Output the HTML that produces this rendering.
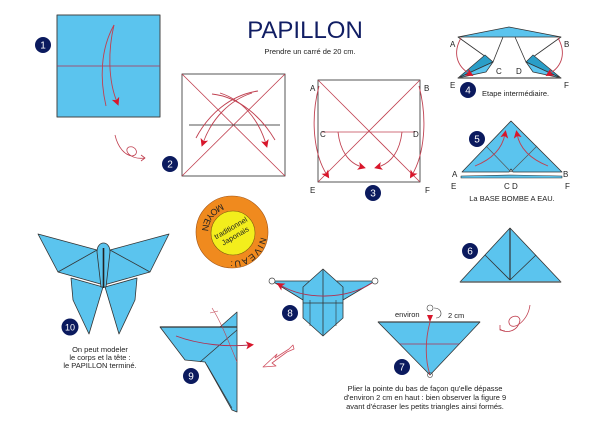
<!DOCTYPE html>
<html><head><meta charset="utf-8"><style>
html,body{margin:0;padding:0;background:#fff}
svg{display:block}
text{font-family:"Liberation Sans",sans-serif}
</style></head><body>
<svg width="609" height="430" viewBox="0 0 609 430" xmlns="http://www.w3.org/2000/svg">
<defs>
<marker id="ah" markerWidth="8" markerHeight="8" refX="4" refY="4" orient="auto" markerUnits="userSpaceOnUse"><path d="M0,0 L8,4 L0,8 L2,4 Z" fill="#d8162b"/></marker>
<path id="arcN" d="M260.6,237 A29 29 0 0 1 204.7,241.9"/>
<path id="arcM" d="M221.7,203.8 A30 30 0 0 0 203.8,242.3"/>
</defs>
<g stroke-linejoin="round">
<!-- title -->
<text x="305" y="38" font-size="24" fill="#101d63" text-anchor="middle">PAPILLON</text>
<text x="310" y="54" font-size="7.5" fill="#222" text-anchor="middle">Prendre un carré de 20 cm.</text>

<!-- Fig 1 -->
<rect x="57" y="15" width="103" height="102" fill="#5bc4ee" stroke="#444" stroke-width="1"/>
<line x1="57" y1="66" x2="160" y2="66" stroke="#b03050" stroke-width="0.8"/>
<path d="M114,25 C100,50 100,80 106,106" fill="none" stroke="#c04050" stroke-width="0.9"/>
<path d="M114,25 C108,50 108,80 117,102" fill="none" stroke="#c04050" stroke-width="0.9" marker-end="url(#ah)"/>
<circle cx="43" cy="45" r="8" fill="#0b1a5e"/><text x="43" y="48.5" font-size="10" fill="#fff" text-anchor="middle">1</text>

<!-- loop arrow -->
<path d="M115,135 C118,148 125,155 132,156 C140,155 136,145 129,147 C123,150 130,160 145,158" fill="none" stroke="#c04050" stroke-width="0.8"/>
<path d="M141,155 L145,158 L141,161" fill="none" stroke="#c04050" stroke-width="0.8"/>

<!-- Fig 2 -->
<rect x="182" y="74" width="103" height="102" fill="#fff" stroke="#555" stroke-width="1"/>
<line x1="182" y1="74" x2="285" y2="176" stroke="#c04050" stroke-width="0.8"/>
<line x1="285" y1="74" x2="182" y2="176" stroke="#c04050" stroke-width="0.8"/>
<line x1="189" y1="125" x2="280" y2="125" stroke="#555" stroke-width="0.9"/>
<path d="M258,91 C230,95 208,115 196,138" fill="none" stroke="#c04050" stroke-width="0.9"/>
<path d="M252,93 C230,100 212,118 203,143" fill="none" stroke="#c04050" stroke-width="0.9" marker-end="url(#ah)"/>
<path d="M212,94 C240,97 262,118 275,140" fill="none" stroke="#c04050" stroke-width="0.9"/>
<path d="M220,93 C242,100 258,118 266,144" fill="none" stroke="#c04050" stroke-width="0.9" marker-end="url(#ah)"/>
<circle cx="170" cy="164" r="8" fill="#0b1a5e"/><text x="170" y="167.5" font-size="10" fill="#fff" text-anchor="middle">2</text>

<!-- Fig 3 -->
<rect x="318" y="80" width="102" height="102" fill="#fff" stroke="#555" stroke-width="1"/>
<line x1="318" y1="80" x2="420" y2="182" stroke="#c04050" stroke-width="0.8"/>
<line x1="420" y1="80" x2="318" y2="182" stroke="#c04050" stroke-width="0.8"/>
<line x1="322" y1="132" x2="415" y2="132" stroke="#c04050" stroke-width="0.8"/>
<path d="M319,86 C310,120 314,155 327,175" fill="none" stroke="#c04050" stroke-width="0.9" marker-end="url(#ah)"/>
<path d="M419,86 C428,120 424,155 412,175" fill="none" stroke="#c04050" stroke-width="0.9" marker-end="url(#ah)"/>
<path d="M338,132 C340,150 348,163 362,167" fill="none" stroke="#c04050" stroke-width="0.9" marker-end="url(#ah)"/>
<path d="M402,132 C400,150 392,163 378,167" fill="none" stroke="#c04050" stroke-width="0.9" marker-end="url(#ah)"/>
<g font-size="8" fill="#222"><text x="310" y="91">A</text><text x="424" y="91">B</text><text x="320" y="137">C</text><text x="413" y="137">D</text><text x="310" y="193">E</text><text x="425" y="193">F</text></g>
<circle cx="373" cy="193" r="8" fill="#0b1a5e"/><text x="373" y="196.5" font-size="10" fill="#fff" text-anchor="middle">3</text>

<!-- Fig 4 -->
<polygon points="458,37 509,27 561,37" fill="#5bc4ee" stroke="#333" stroke-width="0.8"/>
<polyline points="458,37 493,62 503,37" fill="none" stroke="#333" stroke-width="0.8"/>
<polyline points="561,37 526,62 515,37" fill="none" stroke="#333" stroke-width="0.8"/>
<polygon points="458,78 493,62 485,55" fill="#2a9ec8" stroke="#333" stroke-width="0.7"/>
<polygon points="458,78 493,62 486,72" fill="#5bc4ee" stroke="#333" stroke-width="0.7"/>
<polygon points="561,78 526,62 533,55" fill="#2a9ec8" stroke="#333" stroke-width="0.7"/>
<polygon points="561,78 526,62 533,72" fill="#5bc4ee" stroke="#333" stroke-width="0.7"/>
<line x1="458" y1="78" x2="561" y2="78" stroke="#555" stroke-width="1.2"/>
<path d="M461,38 C453,52 456,66 470,74" fill="none" stroke="#c04050" stroke-width="0.9" marker-end="url(#ah)"/>
<path d="M558,38 C566,52 563,66 549,74" fill="none" stroke="#c04050" stroke-width="0.9" marker-end="url(#ah)"/>
<g font-size="8" fill="#222"><text x="450" y="47">A</text><text x="564" y="47">B</text><text x="496" y="74">C</text><text x="516" y="74">D</text><text x="450" y="88">E</text><text x="564" y="88">F</text></g>
<circle cx="468" cy="90" r="8" fill="#0b1a5e"/><text x="468" y="93.5" font-size="10" fill="#fff" text-anchor="middle">4</text>
<text x="482" y="96" font-size="7.5" fill="#222">Etape intermédiaire.</text>

<!-- Fig 5 -->
<polygon points="461,176 511,175 562,176 562,178 461,178" fill="#5bc4ee" stroke="#333" stroke-width="0.6"/>
<polygon points="462,172 511,121 562,172 513,172 511,169 509,172" fill="#5bc4ee" stroke="#333" stroke-width="0.8"/>
<line x1="486" y1="146" x2="511" y2="172" stroke="#555" stroke-width="0.7"/>
<line x1="537" y1="146" x2="511" y2="172" stroke="#555" stroke-width="0.7"/>
<path d="M475,166 C490,160 502,150 505,134" fill="none" stroke="#c04050" stroke-width="0.9" marker-end="url(#ah)"/>
<path d="M548,166 C533,160 520,150 517,134" fill="none" stroke="#c04050" stroke-width="0.9" marker-end="url(#ah)"/>
<g font-size="8" fill="#222"><text x="452" y="177">A</text><text x="563" y="177">B</text><text x="451" y="189">E</text><text x="504" y="189">C D</text><text x="565" y="189">F</text></g>
<circle cx="477" cy="139" r="8" fill="#0b1a5e"/><text x="477" y="142.5" font-size="10" fill="#fff" text-anchor="middle">5</text>
<text x="512" y="201" font-size="7.5" fill="#222" text-anchor="middle">La BASE BOMBE A EAU.</text>

<!-- Badge -->
<circle cx="232" cy="232" r="36" fill="#f08a1e" stroke="#a05010" stroke-width="0.6"/>
<circle cx="233" cy="233" r="22" fill="#f3ee1c" stroke="#806010" stroke-width="0.6"/>
<text transform="translate(233,232) rotate(-30)" font-size="7.5" fill="#222" text-anchor="middle"><tspan x="0" y="-2">traditionnel</tspan><tspan x="0" y="7">Japonais</tspan></text>
<text font-size="9" fill="#222" letter-spacing="0.5"><textPath href="#arcM">MOYEN</textPath></text>
<text font-size="9" fill="#222" letter-spacing="1"><textPath href="#arcN">NIVEAU:</textPath></text>

<!-- Fig 6 -->
<polygon points="460,282 510,228 561,282" fill="#5bc4ee" stroke="#333" stroke-width="0.8"/>
<line x1="510" y1="228" x2="510" y2="280" stroke="#333" stroke-width="1.2"/>
<line x1="485" y1="255" x2="510" y2="280" stroke="#333" stroke-width="0.8"/>
<line x1="536" y1="255" x2="510" y2="280" stroke="#333" stroke-width="0.8"/>
<line x1="460" y1="282" x2="561" y2="282" stroke="#666" stroke-width="1.4"/>
<circle cx="470" cy="251" r="8" fill="#0b1a5e"/><text x="470" y="254.5" font-size="10" fill="#fff" text-anchor="middle">6</text>

<!-- spiral arrow -->
<path d="M530,305 C528,320 515,330 510,325 C505,318 518,312 520,320 C518,332 505,334 500,329" fill="none" stroke="#c04050" stroke-width="0.8"/>
<path d="M500,325 L500,330 L505,331" fill="none" stroke="#c04050" stroke-width="0.8"/>

<!-- Fig 7 -->
<polygon points="378,322 480,322 430,375" fill="#5bc4ee" stroke="#333" stroke-width="0.8"/>
<line x1="378" y1="322" x2="480" y2="322" stroke="#444" stroke-width="1.3"/>
<line x1="400" y1="344" x2="459" y2="344" stroke="#b03050" stroke-width="0.8"/>
<path d="M430,375 C425,360 425,340 430,322" fill="none" stroke="#c04050" stroke-width="0.9"/>
<path d="M430,322 L427,315 L433,315 Z" fill="#d8162b"/>
<circle cx="430" cy="375" r="2.5" fill="none" stroke="#444" stroke-width="0.6"/>
<circle cx="430" cy="308" r="3" fill="none" stroke="#444" stroke-width="0.6"/>
<path d="M434,308 C443,308 443,318 436,318" fill="none" stroke="#444" stroke-width="0.6"/>
<text x="395" y="317" font-size="7.5" fill="#222">environ</text>
<text x="448" y="318" font-size="7.5" fill="#222">2 cm</text>
<circle cx="402" cy="367" r="8" fill="#0b1a5e"/><text x="402" y="370.5" font-size="10" fill="#fff" text-anchor="middle">7</text>
<text font-size="7.5" fill="#222" text-anchor="middle"><tspan x="425" y="391">Plier la pointe du bas de façon qu'elle dépasse</tspan><tspan x="425" y="400">d'environ 2 cm en haut : bien observer la figure 9</tspan><tspan x="425" y="409">avant d'écraser les petits triangles ainsi formés.</tspan></text>

<!-- Fig 8 -->
<polygon points="272,281 375,281 343,300 303,300" fill="#5bc4ee" stroke="#333" stroke-width="0.8"/>
<polygon points="323,269 343,287 343,318 323,336 303,318 303,287" fill="#5bc4ee" stroke="#333" stroke-width="0.8"/>
<line x1="323" y1="269" x2="323" y2="336" stroke="#333" stroke-width="0.8"/>
<line x1="303" y1="303" x2="343" y2="303" stroke="#333" stroke-width="0.8"/>
<line x1="310" y1="300" x2="310" y2="326" stroke="#333" stroke-width="0.6"/>
<line x1="336" y1="300" x2="336" y2="326" stroke="#333" stroke-width="0.6"/>
<path d="M372,283 C345,300 305,300 280,285" fill="none" stroke="#b03050" stroke-width="0.9" marker-end="url(#ah)"/>
<circle cx="272" cy="281" r="3" fill="#fff" stroke="#444" stroke-width="0.7"/>
<circle cx="375" cy="281" r="3" fill="#fff" stroke="#444" stroke-width="0.7"/>
<circle cx="290" cy="313" r="8" fill="#0b1a5e"/><text x="290" y="316.5" font-size="10" fill="#fff" text-anchor="middle">8</text>

<!-- hollow arrow -->
<path d="M293,345 L289,349 L275,358 L277,354 L263,367 L276,366 L272,363 L287,352 L294,349 Z" fill="#fff" stroke="#d05060" stroke-width="0.8"/>

<!-- Fig 9 -->
<polygon points="160,327 220,327 237,312 237,412 232,410 205,362 185,360" fill="#5bc4ee" stroke="#333" stroke-width="0.8"/>
<line x1="160" y1="327" x2="237" y2="327" stroke="#333" stroke-width="1.3"/>
<line x1="200" y1="362" x2="237" y2="330" stroke="#333" stroke-width="0.8"/>
<line x1="207" y1="365" x2="232" y2="408" stroke="#333" stroke-width="0.6"/>
<path d="M176,336 C200,345 228,347 250,345" fill="none" stroke="#b03050" stroke-width="0.9" marker-end="url(#ah)"/>
<path d="M212,308 C220,320 228,340 237,362" fill="none" stroke="#c04050" stroke-width="0.6"/>
<line x1="210" y1="313" x2="218" y2="311" stroke="#c04050" stroke-width="0.6"/>
<circle cx="191" cy="376" r="8" fill="#0b1a5e"/><text x="191" y="379.5" font-size="10" fill="#fff" text-anchor="middle">9</text>

<!-- Fig 10 butterfly -->
<polygon points="71,278 103,287 89,334 73,300" fill="#5bc4ee" stroke="#333" stroke-width="0.8"/>
<polygon points="137,278 105,287 119,334 135,300" fill="#5bc4ee" stroke="#333" stroke-width="0.8"/>
<polygon points="38,234 97,250 104,285 58,272" fill="#5bc4ee" stroke="#333" stroke-width="0.8"/>
<polygon points="169,234 110,250 104,285 150,272" fill="#5bc4ee" stroke="#333" stroke-width="0.8"/>
<line x1="58" y1="272" x2="97" y2="250" stroke="#333" stroke-width="0.8"/>
<line x1="150" y1="272" x2="110" y2="250" stroke="#333" stroke-width="0.8"/>
<path d="M97,252 C97,240 110,240 110,252 L106,287 L101,287 Z" fill="#5bc4ee" stroke="#333" stroke-width="0.8"/>
<line x1="103.5" y1="248" x2="103.5" y2="288" stroke="#222" stroke-width="1.6"/>
<circle cx="70" cy="327" r="8.5" fill="#0b1a5e"/><text x="70" y="330.5" font-size="9" fill="#fff" text-anchor="middle">10</text>
<text font-size="7.5" fill="#222" text-anchor="middle"><tspan x="100" y="352">On peut modeler</tspan><tspan x="100" y="360">le corps et la tête :</tspan><tspan x="100" y="368">le PAPILLON terminé.</tspan></text>
</g>
</svg>
</body></html>
